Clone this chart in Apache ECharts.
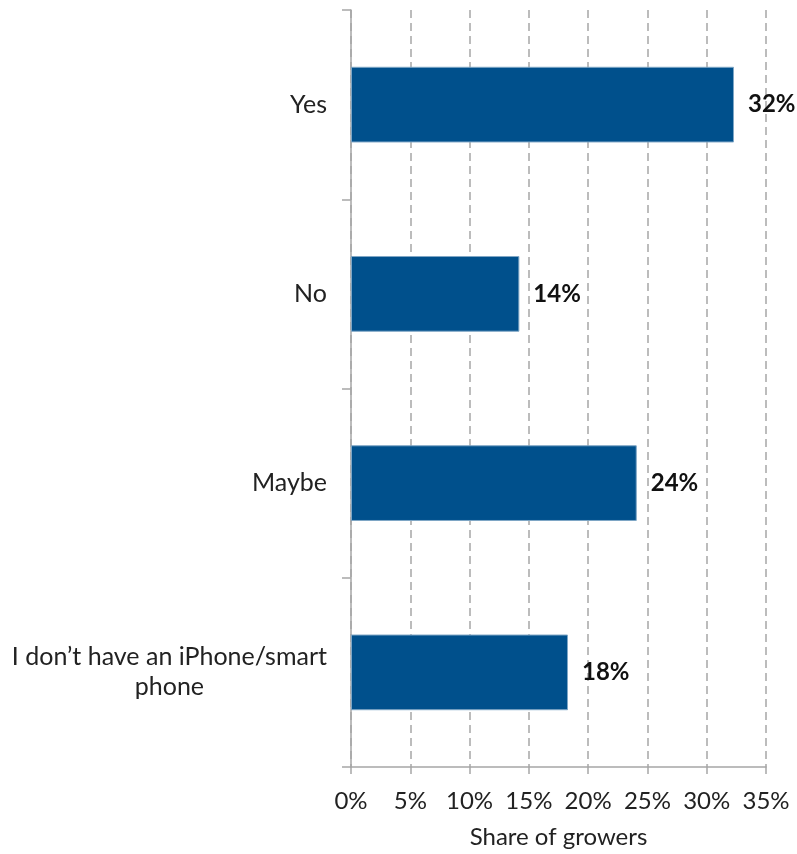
<!DOCTYPE html>
<html><head><meta charset="utf-8">
<script src="https://cdn.jsdelivr.net/npm/echarts@6/dist/echarts.min.js"></script>
<style>html,body{margin:0;padding:0;background:#fff}#c{width:797px;height:854px}</style>
</head><body><div id="c"></div>
<script>
const categories = ["Yes", "No", "Maybe", "I don\u2019t have an iPhone/smart\nphone"];
const values = [32.3, 14.2, 24.1, 18.3];
const xTicks = [0, 5, 10, 15, 20, 25, 30, 35];
const axisName = "Share of growers";

const FONT = "Lato";
const chart = echarts.init(document.getElementById('c'), null, {renderer: 'canvas'});
chart.setOption({
  animation: false,
  grid: {left: 351, right: 31, top: 10, bottom: 87, containLabel: false},
  xAxis: {
    type: 'value', min: xTicks[0], max: xTicks[xTicks.length - 1], interval: 5,
    name: axisName, nameLocation: 'middle', nameGap: 58,
    nameTextStyle: {fontFamily: FONT, fontSize: 24, color: '#222'},
    axisLine: {show: true, lineStyle: {color: '#A6A6A6', width: 1.5}},
    axisTick: {show: true, length: 7, lineStyle: {color: '#A6A6A6', width: 1.5}},
    axisLabel: {fontFamily: FONT, fontSize: 24, color: '#222', margin: 22, formatter: v => v + '%'},
    splitLine: {show: true, lineStyle: {color: '#A6A6A6', type: [8, 5], width: 1.5}}
  },
  yAxis: {
    type: 'category', data: categories, inverse: true,
    axisLine: {show: true, lineStyle: {color: '#A6A6A6', width: 1.5}},
    axisTick: {show: true, length: 9, lineStyle: {color: '#A6A6A6', width: 1.5}},
    axisLabel: {
      fontFamily: FONT, fontSize: 25, color: '#222', margin: 24, lineHeight: 30,
      formatter: v => v.split('\n').map(s => '{c|' + s + '}').join('\n'),
      rich: {c: {align: 'center', fontFamily: FONT, fontSize: 25, color: '#222', lineHeight: 30}}
    },
    splitLine: {show: false}
  },
  series: [{
    type: 'bar', data: values, barWidth: '40%',
    itemStyle: {color: '#00508C', borderColor: '#7FA7C6', borderWidth: 1},
    label: {
      show: true, position: 'right', distance: 14,
      fontFamily: FONT, fontSize: 24, fontWeight: 'bold', color: '#111',
      formatter: p => Math.round(p.value) + '%'
    }
  }]
});
</script></body></html>
